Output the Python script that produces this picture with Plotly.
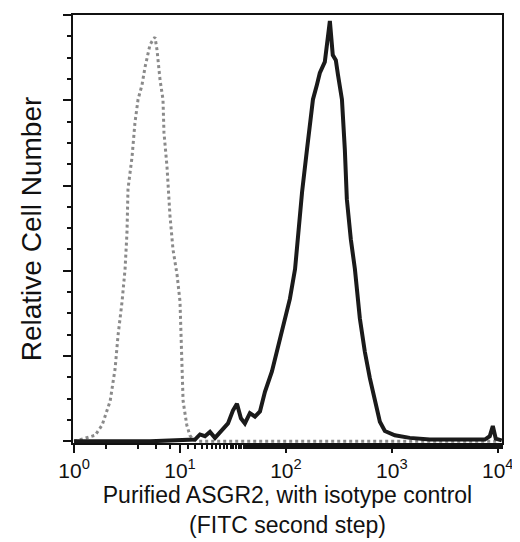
import plotly.graph_objects as go

# isotype control (grey, dotted)
iso_x = [1, 1.58, 1.84, 2.19, 2.44, 2.60, 2.84, 3.03, 3.16, 3.23, 3.53, 3.76, 4.02, 4.38,
         4.68, 4.99, 5.21, 5.56, 5.81, 6.07, 6.48, 6.91, 7.06, 7.54, 7.70, 8.05, 8.59,
         9.37, 10.0, 10.2, 10.4, 10.7, 11.6, 12.4, 13.3, 14.5, 10000]
iso_y = [0, 0.07, 0.19, 0.47, 0.85, 1.24, 1.64, 2.02, 2.45, 2.96, 3.34, 3.74, 4.01, 4.18,
         4.39, 4.53, 4.65, 4.71, 4.74, 4.59, 4.24, 4.01, 3.62, 3.22, 2.99, 2.64, 2.25,
         1.96, 1.64, 1.24, 0.85, 0.47, 0.19, 0.07, 0.02, 0, 0]

# purified ASGR2 (black)
asgr_x = [1, 5.21, 13.85, 15.44, 17.21, 19.19, 21.4, 24.9, 28.4, 31.6, 34.5, 37.6, 41.0,
          45.7, 51.0, 56.9, 63.4, 73.8, 84.1, 97.9, 109, 122, 136, 142, 158, 168, 180,
          196, 209, 233, 249, 260, 277, 296, 310, 338, 360, 376, 410, 448, 499, 556,
          620, 691, 771, 859, 1067, 1478, 2281, 4382, 7540, 8410, 8980, 9575, 10910]
asgr_y = [0, 0, 0.02, 0.08, 0.06, 0.11, 0.04, 0.13, 0.21, 0.36, 0.44, 0.27, 0.21,
          0.33, 0.29, 0.35, 0.58, 0.82, 1.09, 1.44, 1.67, 2.02, 2.76, 2.92, 3.42, 3.69,
          4.01, 4.18, 4.32, 4.45, 4.71, 4.93, 4.53, 4.47, 4.30, 4.01, 3.42, 2.84, 2.37,
          2.02, 1.44, 1.05, 0.74, 0.47, 0.23, 0.12, 0.07, 0.04, 0.02, 0.02, 0.02, 0.06,
          0.18, 0.03, 0.01]

tick_vals = [1, 10, 100, 1000, 10000]
tick_text = ["10<sup>0</sup>", "10<sup>1</sup>", "10<sup>2</sup>", "10<sup>3</sup>", "10<sup>4</sup>"]

fig = go.Figure()
fig.add_trace(go.Scatter(
    x=iso_x, y=iso_y, mode="lines",
    line=dict(color="#8a8a8a", width=3, dash="dot"),
    showlegend=False,
))
fig.add_trace(go.Scatter(
    x=asgr_x, y=asgr_y, mode="lines",
    line=dict(color="#1a1a1a", width=4),
    showlegend=False,
))

# the page body adds an 8px margin, so the figure is 8px smaller than the window
fig.update_layout(
    width=512, height=534,
    paper_bgcolor="white", plot_bgcolor="white",
    font=dict(family="Liberation Sans, Arial, sans-serif", color="#111", size=21),
    margin=dict(l=65, r=18, t=7, b=99),
    xaxis=dict(
        type="log", range=[-0.01, 4.04], automargin=False,
        tickvals=tick_vals, ticktext=tick_text, ticklabeloverflow="allow",
        ticks="outside", ticklen=8, tickwidth=1.5, tickcolor="#111",
        minor=dict(ticks="outside", ticklen=4, tickcolor="#111"),
        showline=True, linecolor="#111", linewidth=2, mirror=True,
        showgrid=False, zeroline=False,
        tickfont=dict(size=21),
        title=dict(text="Purified ASGR2, with isotype control<br>(FITC second step)",
                   font=dict(size=23), standoff=0),
    ),
    yaxis=dict(
        range=[-0.02, 5.0], dtick=1, automargin=False,
        ticks="outside", ticklen=8, tickwidth=1.5, tickcolor="#111",
        minor=dict(ticks="outside", ticklen=4, dtick=0.25, tickcolor="#111"),
        showticklabels=False,
        showline=True, linecolor="#111", linewidth=2, mirror=True,
        showgrid=False, zeroline=False,
        title=dict(text="Relative Cell Number", font=dict(size=28), standoff=13),
    ),
)

fig.write_html("out.html")
